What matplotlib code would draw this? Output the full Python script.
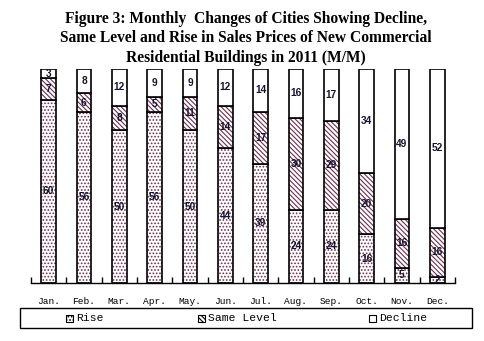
import matplotlib
matplotlib.use("Agg")
import matplotlib.pyplot as plt
from matplotlib.patches import Rectangle
import numpy as np

# Number of cities (out of 70) per month, month-on-month
months = ['Jan.', 'Feb.', 'Mar.', 'Apr.', 'May.', 'Jun.',
          'Jul.', 'Aug.', 'Sep.', 'Oct.', 'Nov.', 'Dec.']
rise = [60, 56, 50, 56, 50, 44, 39, 24, 24, 16, 5, 2]
same_level = [7, 6, 8, 5, 11, 14, 17, 30, 29, 20, 16, 16]
decline = [3, 8, 12, 9, 9, 12, 14, 16, 17, 34, 49, 52]

title = ('Figure 3: Monthly  Changes of Cities Showing Decline,\n'
         'Same Level and Rise in Sales Prices of New Commercial\n'
         'Residential Buildings in 2011 (M/M)')

hatch_col = '#6e2f52'
label_col = '#15152e'
mono = 'Liberation Mono'
dots = '.....'
diag = '\\' * 7

plt.rcParams['hatch.linewidth'] = 0.8

W, H = 485, 341
fig = plt.figure(figsize=(W / 100, H / 100), dpi=100)
ax = fig.add_axes([31 / W, 58 / H, 424 / W, 214 / H])

x = np.arange(len(months))
width = 0.42
series = [(rise, dots), (same_level, diag), (decline, '')]
bottom = np.zeros(len(months))
for vals, hatch in series:
    vals = np.array(vals, dtype=float)
    # hatch layer first, then the black outline on top
    ax.bar(x, vals, width, bottom=bottom, color='white', edgecolor=hatch_col,
           hatch=hatch, linewidth=0)
    ax.bar(x, vals, width, bottom=bottom, fill=False, edgecolor='black',
           linewidth=1.2)
    for xi, b, v in zip(x, bottom, vals):
        ax.text(xi, b + v / 2, '%d' % v, ha='center', va='center',
                fontsize=7.3, fontweight='bold', family='Liberation Sans',
                color=label_col)
    bottom += vals

ax.set_xlim(-0.5, len(months) - 0.5)
ax.set_ylim(0, 70)
for s in ['left', 'right', 'top']:
    ax.spines[s].set_visible(False)
ax.spines['bottom'].set_linewidth(1.0)
ax.set_yticks([])
ax.set_xticks(x)
ax.set_xticklabels(months, family=mono, fontsize=6.8)
ax.set_xticks(np.arange(-0.5, len(months)), minor=True)
ax.tick_params(axis='x', which='major', length=0, pad=10)
ax.tick_params(axis='x', which='minor', length=4, direction='in', width=1.0)

fig.text(246 / W, 1 - 38.5 / H, title, ha='center', va='center',
         family='Liberation Serif', fontweight='bold', fontsize=11.2,
         linespacing=1.3)

# legend box along the bottom
fig.patches.append(Rectangle((20 / W, 13 / H), 452 / W, 20 / H,
                             transform=fig.transFigure, fill=False,
                             edgecolor='black', linewidth=1.0))
legend_items = [('Rise', dots, 66), ('Same Level', diag, 198),
                ('Decline', '', 369)]
for name, hatch, px in legend_items:
    fig.patches.append(Rectangle((px / W, (341 - 322) / H), 7 / W, 7 / H,
                                 transform=fig.transFigure, facecolor='white',
                                 edgecolor='black', hatch=hatch,
                                 linewidth=0.8))
    fig.text((px + 10) / W, 1 - 318 / H, name, ha='left', va='center',
             family=mono, fontsize=8.2)

fig.savefig('out.png', dpi=100)
